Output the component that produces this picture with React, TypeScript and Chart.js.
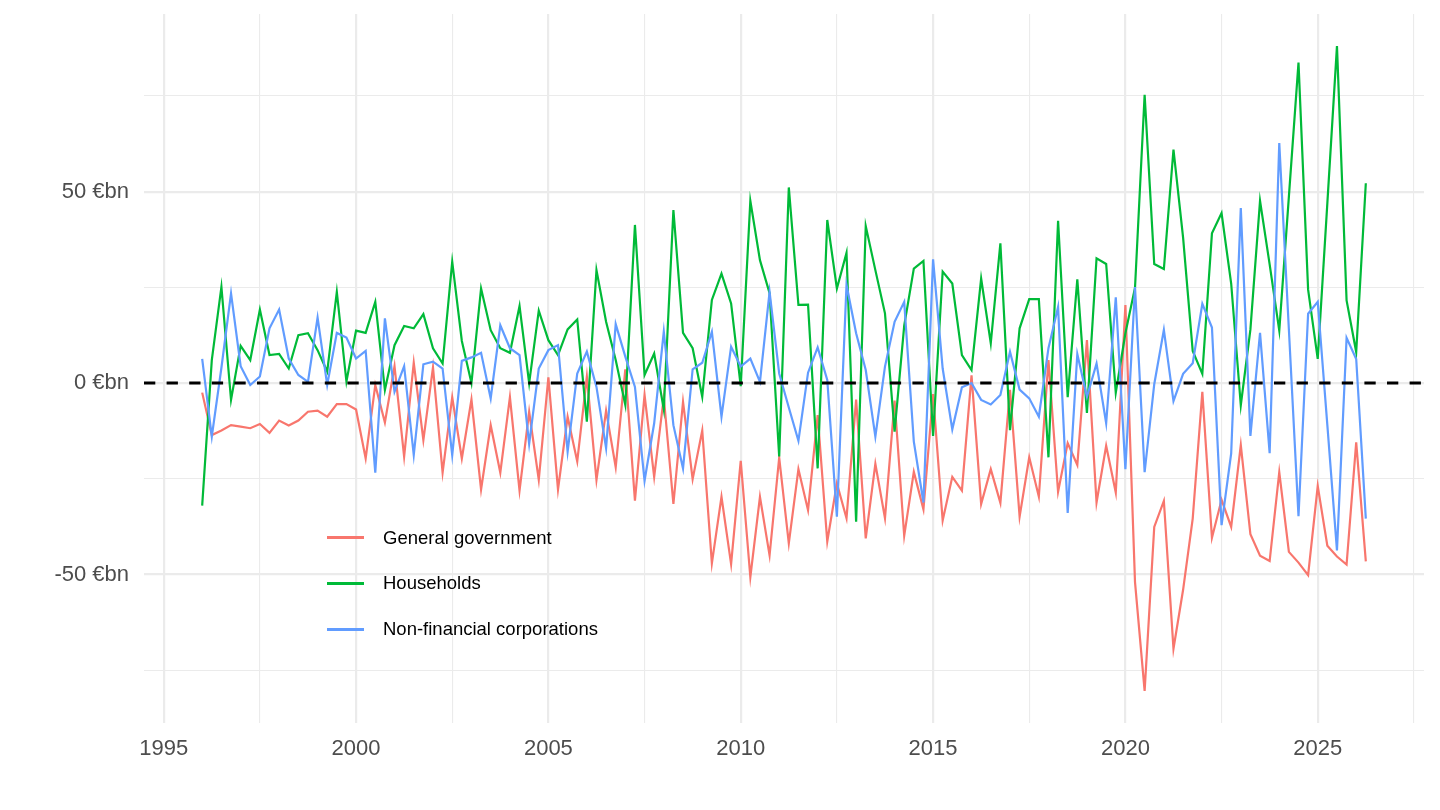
import { Chart, registerables, type ChartConfiguration } from "chart.js";
import { useEffect, useRef } from "react";

Chart.register(...registerables);

// quarterly flows, first quarter of 1996 onwards (€bn)
const firstYear = 1996;

const generalGovernment = [
  -2.5, -13.6, -12.4, -11, -11.4, -11.8, -10.7, -13, -9.8, -11.1,
  -9.8, -7.5, -7.2, -8.8, -5.5, -5.5, -6.9, -19.7, -0.5, -10.3,
  4.4, -19.2, 5.3, -14.9, 4.1, -23.4, -3.7, -19.7, -4.3, -27.8,
  -11, -23.4, -3.7, -28.1, -7.5, -25.3, 1.5, -27.8, -8.8, -20.5,
  1.7, -25.3, -7.2, -22, 3.6, -30.7, -3.1, -24.5, -3.7, -31.6,
  -4.9, -25.1, -12.4, -47.1, -29.7, -47.3, -20.3, -50.7, -29.7, -45,
  -19.5, -41.9, -22.5, -33.2, -8.4, -41.4, -26.2, -35.3, -4.3, -40.6,
  -21.1, -35.3, -4.6, -39.9, -23.2, -33, -2.9, -35.9, -24.5, -28.1,
  2, -31.6, -22.5, -31.3, -1.8, -34.9, -19.4, -29.7, 6, -28.4,
  -15.7, -21.4, 11.2, -31.2, -16.4, -28.6, 20.4, -52, -80.4, -37.6,
  -30.8, -69.4, -54, -35.4, -2.3, -40.4, -30.5, -37.6, -16.2, -39.5,
  -45.1, -46.5, -23.3, -44.1, -46.9, -50.2, -26.9, -42.5, -45.3, -47.4,
  -15.5, -46.6,
];

const households = [
  -32, 6, 25.1, -4.4, 9.7, 6, 19.2, 7.3, 7.6, 3.8,
  12.5, 13, 8.6, 3, 23.8, 0.4, 13.7, 13.1, 21.2, -1.8,
  9.9, 14.9, 14.3, 18, 9.1, 5.1, 31.7, 11, 0, 24.7,
  13.8, 9.1, 7.9, 20.1, 0, 18.9, 11.2, 7.3, 14, 16.6,
  -10.1, 29.5, 16, 6, -5.7, 41.3, 2.1, 7.7, -6.9, 45.2,
  13.1, 9.1, -3.6, 21.7, 28.6, 20.8, -0.8, 47.6, 32.1, 23.5,
  -19.2, 51.1, 20.4, 20.5, -22.3, 42.6, 24.7, 34, -36.2, 41,
  29.5, 18.2, -12.7, 15, 29.9, 31.9, -13.8, 29.1, 26, 7.3,
  3.4, 27.3, 10.4, 36.5, -12.3, 14.3, 21.9, 21.9, -19.4, 42.4,
  -3.7, 27.1, -7.8, 32.6, 31.1, -2.5, 13, 24.9, 75.3, 31.1,
  29.8, 61, 38, 8.4, 2.4, 39.1, 44.4, 26, -5.8, 14,
  47.6, 31, 13.7, 48.7, 83.7, 24.4, 6.3, 47, 88, 21.6,
  8.1, 52.2,
];

const nonFinancialCorporations = [
  6.3, -14, 4, 23.4, 4.4, -0.5, 1.7, 14.3, 19.2, 6.4,
  2.1, 0.3, 17.1, -0.5, 13.1, 11.9, 6.4, 8.4, -23.4, 16.9,
  -2.3, 4.4, -18.8, 4.9, 5.6, 3.8, -18.8, 5.8, 6.7, 7.9,
  -4, 15.1, 9.1, 7.3, -15.9, 3.8, 8.6, 9.9, -17.9, 2.5,
  8.2, -1, -17, 15.4, 6.9, -1, -25.5, -10.5, 13.4, -11,
  -22.3, 3.6, 5.3, 13.4, -8.8, 9.5, 4.3, 6.4, 0.3, 23.8,
  2.5, -6.4, -15.1, 2.7, 9.3, 0.8, -34.9, 25.6, 13, 3.4,
  -14, 4.3, 16, 21.2, -15.3, -31.2, 32.3, 3.8, -12.1, -1.1,
  0, -4.4, -5.6, -3.1, 8.2, -1.7, -4, -8.8, 9.1, 19.9,
  -33.9, 7.6, -3.6, 5.1, -10.5, 22.4, -22.5, 25.1, -23.3, -0.3,
  13.9, -4.7, 2.4, 5.2, 20.7, 14.5, -37.1, -18.4, 45.7, -13.8,
  13.1, -18.3, 62.7, 14, -34.8, 18.1, 21.2, -11, -43.7, 11.8,
  6.3, -35.4,
];

const seriesNames = ["General government", "Households", "Non-financial corporations"];
const seriesColors = ["#F8766D", "#00BA38", "#619CFF"];

const xTickLabels = [1995, 2000, 2005, 2010, 2015, 2020, 2025];
const yTickLabels: Record<string, string> = { "-50": "-50 €bn", "0": "0 €bn", "50": "50 €bn" };

const xMin = 1994.4875;
const xMax = 2027.7625;
const yMin = -88.8;
const yMax = 96.4;

const fontFamily = '"Liberation Sans", Arial, Helvetica, sans-serif';
const gridColor = "#ebebeb";

function toPoints(values: number[]) {
  return values.map((y, i) => ({ x: firstYear + i / 4, y }));
}

function seriesDataset(index: number, values: number[]) {
  return {
    label: seriesNames[index],
    data: toPoints(values),
    borderColor: seriesColors[index],
    borderWidth: 2.2,
    pointRadius: 0,
    tension: 0,
  };
}

function buildConfig(): ChartConfiguration<"line"> {
  return {
    type: "line",
    data: {
      datasets: [
        {
          label: "zero",
          data: [
            { x: xMin, y: 0 },
            { x: xMax, y: 0 },
          ],
          borderColor: "#000000",
          borderWidth: 3,
          borderDash: [11.3, 11.3],
          pointRadius: 0,
        },
        seriesDataset(2, nonFinancialCorporations),
        seriesDataset(1, households),
        seriesDataset(0, generalGovernment),
      ],
    },
    options: {
      animation: false,
      responsive: true,
      maintainAspectRatio: false,
      layout: { padding: { top: 14, right: 16, bottom: 0, left: 0 } },
      plugins: {
        legend: { display: false },
        tooltip: { enabled: false },
      },
      scales: {
        x: {
          type: "linear",
          min: xMin,
          max: xMax,
          border: { display: false },
          grid: {
            color: gridColor,
            drawTicks: false,
            lineWidth: (ctx) => (ctx.tick && ctx.tick.value % 5 === 0 ? 2.2 : 1.1),
          },
          ticks: {
            stepSize: 2.5,
            includeBounds: false,
            autoSkip: false,
            maxRotation: 0,
            padding: 13,
            color: "#4d4d4d",
            font: { family: fontFamily, size: 22 },
            callback: (value) => (xTickLabels.includes(Number(value)) ? String(value) : ""),
          },
          afterFit: (scale) => {
            scale.height = 87;
            scale.paddingLeft = 0;
            scale.paddingRight = 0;
          },
        },
        y: {
          type: "linear",
          min: yMin,
          max: yMax,
          border: { display: false },
          grid: {
            color: gridColor,
            drawTicks: false,
            lineWidth: (ctx) => (ctx.tick && ctx.tick.value % 50 === 0 ? 2.2 : 1.1),
          },
          ticks: {
            stepSize: 25,
            includeBounds: false,
            padding: 15,
            color: "#4d4d4d",
            font: { family: fontFamily, size: 22 },
            callback: (value) => yTickLabels[String(Number(value))] ?? "",
          },
          afterFit: (scale) => {
            scale.width = 144;
            scale.paddingTop = 0;
            scale.paddingBottom = 0;
          },
        },
      },
    },
  };
}

const legendRows = [537.7, 583.3, 629.3];

function Legend() {
  return (
    <>
      {seriesNames.map((name, i) => (
        <div
          key={name}
          style={{
            position: "absolute",
            left: 327,
            top: legendRows[i] - 12,
            height: 24,
            display: "flex",
            alignItems: "center",
            fontFamily,
            fontSize: 18.5,
            color: "#000",
            whiteSpace: "nowrap",
          }}
        >
          <div style={{ width: 37, height: 2.5, background: seriesColors[i] }} />
          <span style={{ marginLeft: 19, lineHeight: "24px" }}>{name}</span>
        </div>
      ))}
    </>
  );
}

export default function App() {
  const canvasRef = useRef<HTMLCanvasElement>(null);

  useEffect(() => {
    document.body.style.margin = "0";
    if (!canvasRef.current) {
      return;
    }
    const chart = new Chart(canvasRef.current, buildConfig());
    return () => {
      chart.destroy();
    };
  }, []);

  return (
    <div
      style={{
        position: "absolute",
        left: 0,
        top: 0,
        width: 1440,
        height: 810,
        background: "#ffffff",
      }}
    >
      <div style={{ position: "absolute", left: 0, top: 0, width: 1440, height: 810 }}>
        <canvas ref={canvasRef} />
      </div>
      <Legend />
    </div>
  );
}
